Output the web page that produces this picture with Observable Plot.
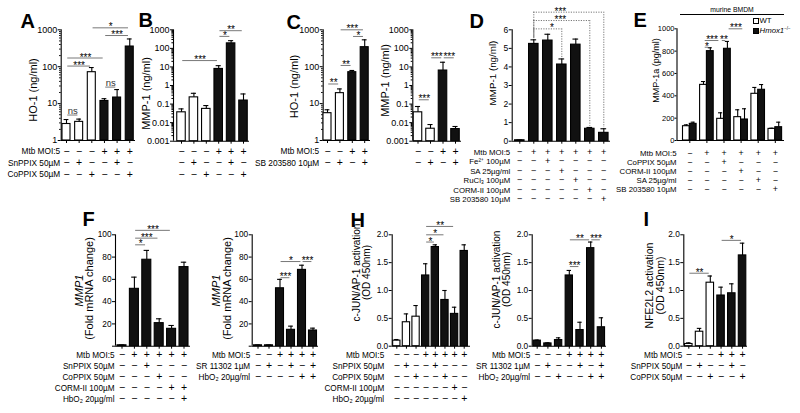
<!DOCTYPE html>
<html><head><meta charset="utf-8">
<script src="https://cdn.jsdelivr.net/npm/d3@7"></script>
<script src="https://cdn.jsdelivr.net/npm/@observablehq/plot@0.6"></script>
<style>
html,body{margin:0;padding:0;background:#fff;}
#fig{position:relative;width:800px;height:413px;overflow:hidden;font-family:"Liberation Sans",Arial,sans-serif;color:#000;}
#fig svg{position:absolute;left:0;top:0;}
.abs{position:absolute;white-space:nowrap;line-height:1;}
</style></head><body><div id="fig"></div>
<script>
// ---------------- DATA ----------------
// tick values and labels
const LOG3_TICKS = [1, 10, 100, 1000];
const LOG3_LABELS = ["1", "10", "100", "1000"];
const LOG6_TICKS = [0.001, 0.01, 0.1, 1, 10, 100, 1000];
const LOG6_LABELS = ["0.001", "0.01", "0.1", "1", "10", "100", "1000"];
const D_TICKS = [0, 1, 2, 3, 4, 5, 6];
const D_LABELS = ["0", "1", "2", "3", "4", "5", "6"];
const E_TICKS = [0, 200, 400, 600, 800, 1000];
const E_LABELS = ["0", "200", "400", "600", "800", "1000"];
const F_TICKS = [0, 20, 40, 60, 80, 100];
const F_LABELS = ["", "20", "40", "60", "80", "100"];
const H_TICKS = [0, 0.5, 1, 1.5, 2];
const H_LABELS = ["0.0", "0.5", "1.0", "1.5", "2.0"];

// Panel A
const A_mean = [2.8, 3.2, 71, 11.8, 14.6, 352];
const A_sem = [0.9, 0.6, 24, 1.8, 9.4, 213];
const A_rowLabels = ["Mtb MOI:5", "SnPPIX 50µM", "CoPPIX 50µM"];
const A_rows = ["---+++", "-+--+-", "--+--+"];
const A_sig = [[0,1,4.9,"ns"],[3,4,28,"ns"],[0,3,172,"***"],[0,2,104,"***"],[2,5,1130,"*"],[3,5,700,"***"]];
const A_yTitle = "HO-1 (ng/ml)";

// Panel B
const B_mean = [0.036, 0.23, 0.055, 7.8, 186, 0.155];
const B_sem = [0.019, 0.15, 0.028, 3.9, 74, 0.195];
const B_rows = ["---+++", "-+--+-", "--+--+"];
const B_sig = [[0,3,22,"***"],[3,4,442,"*"],[3,5,895,"**"]];
const B_yTitle = "MMP-1 (ng/ml)";

// Panel C (HO-1)
const C1_mean = [5.5, 19.2, 71, 338];
const C1_sem = [1.3, 5.8, 8, 197];
const C1_rowLabels = ["Mtb MOI:5", "SB 203580 10µM"];
const C1_rows = ["--++", "-+-+"];
const C1_sig = [[0,1,34,"**"],[1,2,108,"**"],[1,3,1000,"***"],[2,3,660,"*"]];
const C1_yTitle = "HO-1 (ng/ml)";
// Panel C (MMP-1)
const C2_mean = [0.036, 0.0047, 6.4, 0.0045];
const C2_sem = [0.038, 0.0032, 11.5, 0.0017];
const C2_rows = ["--++", "-+-+"];
const C2_sig = [[0,1,0.17,"***"],[1,2,31,"***"],[2,3,31,"***"]];
const C2_yTitle = "MMP-1 (ng/ml)";

// Panel D
const D_mean = [0.05, 5.24, 5.42, 4.13, 5.2, 0.67, 0.45];
const D_sem = [0.02, 0.22, 0.34, 0.3, 0.3, 0.07, 0.22];
const D_rowLabels = ["Mtb MOI:5", "Fe²⁺ 100µM", "SA 25µg/ml", "RuCl₃ 100µM", "CORM-II 100µM", "SB 203580 10µM"];
const D_rows = ["-++++++", "--+----", "---+---", "----+--", "-----+-", "------+"];
const D_sig = [[1,5,6.5,"***",2.9],[1,6,6.95,"***",2.9],[1,3,6.05,"*",2.3]];
const D_yTitle = "MMP-1 (ng/ml)";

// Panel E
const E_series = ["WT", "Hmox1"];
const E_wt_mean = [128, 498, 194, 209, 418, 104];
const E_wt_sem = [12, 30, 54, 66, 57, 6];
const E_ko_mean = [149, 800, 821, 188, 454, 119];
const E_ko_sem = [15, 30, 66, 96, 47, 45];
const E_rowLabels = ["Mtb MOI:5", "CoPPIX 50µM", "CORM-II 100µM", "SA 25µg/ml", "SB 203580 10µM"];
const E_rows = ["-+++++", "--+---", "---+--", "----+-", "-----+"];
// [groupA, seriesA, groupB, seriesB, y, label]
const E_sig = [[1,0,1,1,835,"*"],[1,0,2,0,895,"***"],[2,0,2,1,895,"**"],[2,1,3,1,1000,"***"]];
const E_yTitle = "MMP-1a (pg/ml)";
const E_header = "murine BMDM";

// Panel F (left)
const F1_mean = [0.8, 51.5, 77.6, 20.7, 15.6, 71];
const F1_sem = [0.3, 10.5, 8.4, 3.9, 3, 4.4];
const F1_rowLabels = ["Mtb MOI:5", "SnPPIX 50µM", "CoPPIX 50µM", "CORM-II 100µM", "HbO₂ 20µg/ml"];
const F1_rows = ["-+++++", "--+---", "---+--", "----++", "-----+"];
const F1_sig = [[1,2,91,"*"],[1,3,97,"***"],[1,4,104,"***"]];
// Panel F (right)
const F2_mean = [0.8, 0.8, 52, 14.7, 68.5, 14.1];
const F2_sem = [0.3, 0.3, 8, 3.3, 4.2, 2.1];
const F2_rowLabels = ["Mtb MOI:5", "SR 11302 1µM", "HbO₂ 20µg/ml"];
const F2_rows = ["--++++", "-+-+-+", "----++"];
const F2_sig = [[2,3,61.5,"***"],[2,4,76,"*"],[4,5,76,"***"]];
const F_yTitle1 = "MMP1", F_yTitle2 = "(Fold mRNA change)";

// Panel H (left)
const H1_mean = [0.10, 0.43, 0.53, 1.27, 1.78, 0.83, 0.58, 1.71];
const H1_sem = [0.02, 0.15, 0.20, 0.21, 0.04, 0.17, 0.12, 0.11];
const H1_rowLabels = ["Mtb MOI:5", "SnPPIX 50µM", "CoPPIX 50µM", "CORM-II 100µM", "HbO₂ 20µg/ml"];
const H1_rows = ["---+++++", "-+--+---", "--+--+--", "------+-", "-------+"];
const H1_sig = [[3,4,1.87,"*"],[3,5,2.0,"*"],[3,6,2.15,"**"]];
// Panel H (right)
const H2_mean = [0.10, 0.05, 0.11, 1.27, 0.29, 1.76, 0.34];
const H2_sem = [0.01, 0.01, 0.04, 0.09, 0.14, 0.11, 0.17];
const H2_rowLabels = ["Mtb MOI:5", "SR 11302 1µM", "HbO₂ 20µg/ml"];
const H2_rows = ["---++++", "-+--+-+", "--+--++"];
const H2_sig = [[3,4,1.43,"***"],[3,5,1.91,"**"],[5,6,1.91,"***"]];
const H_yTitle1 = "c-JUN/AP-1 activation", H_yTitle2 = "(OD 450nm)";

// Panel I
const I_mean = [0.04, 0.26, 1.14, 0.91, 0.95, 1.63];
const I_sem = [0.02, 0.06, 0.12, 0.15, 0.17, 0.22];
const I_rowLabels = ["Mtb MOI:5", "SnPPIX 50µM", "CoPPIX 50µM"];
const I_rows = ["---+++", "-+--+-", "--+--+"];
const I_sig = [[0,2,1.31,"**"],[3,5,1.9,"*"]];
const I_yTitle1 = "NFE2L2 activation", I_yTitle2 = "(OD 450nm)";

// ---------------- LAYOUT ----------------
const FONT = "Liberation Sans, Arial, Helvetica, sans-serif";
const TOP_ROWS = [151, 162.5, 174];
const BOT_ROWS = [354.5, 365.5, 376.5, 387.5, 398.5];
const topFonts = {tf: 9, cf: 8.3, sf: 10.5, ts: 3, tp: 1};
const botFonts = {tf: 8.3, cf: 8.2, sf: 10.5, ts: 3, tp: 1};
const logMinor = (lo, hi) => { const a = []; for (let p = lo; p < hi; p *= 10) for (let k = 2; k < 10; k++) a.push(p * k); return a; };

const PM = s => Array.from(s).map(c => c === "-" ? "−" : "+");

function drawPanel(L, D) {
  const xlo = (L.ax - L.c0) / L.s, xhi = (L.xr - L.c0) / L.s;
  const hw = L.w / L.s / 2;
  const base = L.domain[0];
  const rows = D.rows.map(PM);
  const nCols = rows[0].length;
  let bars;
  if (D.mean2) {
    bars = D.mean.map((m, i) => ({x: i - hw, mean: m, sem: D.sem[i], fill: "white"}))
      .concat(D.mean2.map((m, i) => ({x: i + hw, mean: m, sem: D.sem2[i], fill: "#111"})));
  } else {
    bars = D.mean.map((m, i) => ({x: i, mean: m, sem: D.sem[i], fill: (L.open && rows[0][i] === "−") ? "white" : "#111"}));
  }
  const cap = hw * 0.6;
  const marks = [];
  // axes
  marks.push(Plot.axisY({ticks: L.ticks, tickFormat: d => L.labels[L.ticks.indexOf(d)], tickSize: L.ts, tickPadding: L.tp, fontSize: L.tf, label: null}));
  if (L.type === "log") marks.push(Plot.axisY({ticks: logMinor(L.domain[0], L.domain[1]), tickFormat: () => "", tickSize: 1.6, label: null}));
  marks.push(Plot.axisX({ticks: d3.range(nCols), tickFormat: () => "", tickSize: 3, label: null}));
  marks.push(Plot.ruleX([xlo], {stroke: "#000", strokeWidth: 1.1}));
  marks.push(Plot.ruleY([base], {stroke: "#000", strokeWidth: 1.1}));
  // bars + error bars
  marks.push(Plot.rect(bars, {x1: d => d.x - hw, x2: d => d.x + hw, y1: () => base, y2: "mean", fill: "fill", stroke: "#000", strokeWidth: 1.1}));
  marks.push(Plot.ruleX(bars, {x: "x", y1: "mean", y2: d => d.mean + d.sem, stroke: "#000", strokeWidth: 1.1}));
  marks.push(Plot.ruleY(bars, {x1: d => d.x - cap, x2: d => d.x + cap, y: d => d.mean + d.sem, stroke: "#000", strokeWidth: 1.1}));
  // significance
  const sig = D.sig;
  const ins = L.dotted ? 0 : 0.1;
  const dash = L.dotted ? {strokeDasharray: "1.2,1.3"} : {};
  marks.push(Plot.ruleY(sig, {x1: d => d.a + ins, x2: d => d.b - ins, y: "y", stroke: "#555", strokeWidth: 0.8, ...dash}));
  if (L.dotted) {
    const drops = [];
    sig.forEach(d => [d.a, d.b].forEach(i => drops.push({x: i, y1: d.y, y2: bars[i].mean + bars[i].sem + 0.06})));
    marks.push(Plot.ruleX(drops, {x: "x", y1: "y1", y2: "y2", stroke: "#555", strokeWidth: 0.8, ...dash}));
  }
  marks.push(Plot.text(sig.filter(d => d.t !== "ns"), {x: "lx", y: "y", text: "t", lineAnchor: "bottom", dy: 2.5, fontSize: 10, fill: "#000"}));
  marks.push(Plot.text(sig.filter(d => d.t === "ns"), {x: "lx", y: "y", text: "t", lineAnchor: "bottom", dy: -1, fontSize: 9.5, fill: "#333"}));
  // condition table
  rows.forEach((r, k) => {
    const dy = L.rowY[k] - L.bottom;
    marks.push(Plot.text(r.map((t, i) => ({x: i, t})), {x: "x", text: "t", frameAnchor: "bottom", textAnchor: "middle", lineAnchor: "middle", dy, fontSize: L.sf}));
    if (D.rowLabels) marks.push(Plot.text([D.rowLabels[k]], {text: d => d, frameAnchor: "bottom-left", dx: L.ldx, dy, textAnchor: "end", lineAnchor: "middle", fontSize: L.cf}));
  });
  // y titles
  const mid = (L.top + L.bottom) / 2;
  L.titles.forEach(t => marks.push(Plot.text([t.t], {text: d => d, frameAnchor: "left", textAnchor: "middle", lineAnchor: "middle", dx: t.x - L.ax, dy: t.cy - mid, rotate: -90, fontSize: t.fs, fontStyle: t.it ? "italic" : "normal"})));
  // panel letter
  if (L.letter) marks.push(Plot.text([L.letter[0]], {text: d => d, frameAnchor: "top-left", dx: L.letter[1] - L.ax, dy: L.letter[2] - L.top, textAnchor: "start", lineAnchor: "bottom", fontSize: 20, fontWeight: "bold"}));

  return Plot.plot({
    width: 800, height: 413,
    marginLeft: L.ax, marginRight: 800 - L.xr, marginTop: L.top, marginBottom: 413 - L.bottom,
    x: {type: "linear", domain: [xlo, xhi]},
    y: {type: L.type, domain: L.domain},
    color: {type: "identity"},
    style: {background: "transparent", fontFamily: FONT, color: "#000", overflow: "visible"},
    marks
  });
}

const sigOf = arr => arr.map(([a, b, y, t, lx]) => ({a, b, y, t, lx: lx ?? (a + b) / 2}));

const fig = document.getElementById("fig");
const panels = [
  [{ax: 60.7, xr: 135, top: 29.3, bottom: 140, c0: 66, s: 12.65, w: 8, type: "log", domain: [1, 1000], ticks: LOG3_TICKS, labels: LOG3_LABELS, open: true, ...topFonts, ldx: -1, rowY: TOP_ROWS, letter: ["A", 20, 27], titles: [{t: A_yTitle, x: 32.5, cy: 89.5, fs: 11}]},
   {mean: A_mean, sem: A_sem, rows: A_rows, rowLabels: A_rowLabels, sig: sigOf(A_sig)}],
  [{ax: 173, xr: 249, top: 29.3, bottom: 140.7, c0: 181, s: 12.4, w: 8.5, type: "log", domain: [0.001, 1000], ticks: LOG6_TICKS, labels: LOG6_LABELS, open: true, ...topFonts, ldx: -1, rowY: TOP_ROWS, letter: ["B", 138, 26.7], titles: [{t: B_yTitle, x: 146, cy: 93, fs: 11}]},
   {mean: B_mean, sem: B_sem, rows: B_rows, sig: sigOf(B_sig)}],
  [{ax: 322.7, xr: 370, top: 29.3, bottom: 140, c0: 327, s: 12.4, w: 8, type: "log", domain: [1, 1000], ticks: LOG3_TICKS, labels: LOG3_LABELS, open: true, ...topFonts, ldx: -4, rowY: TOP_ROWS, letter: ["C", 286, 28], titles: [{t: C1_yTitle, x: 293.5, cy: 86, fs: 11}]},
   {mean: C1_mean, sem: C1_sem, rows: C1_rows, rowLabels: C1_rowLabels, sig: sigOf(C1_sig)}],
  [{ax: 412.3, xr: 461, top: 29.3, bottom: 140.7, c0: 417.5, s: 12.5, w: 8.5, type: "log", domain: [0.001, 1000], ticks: LOG6_TICKS, labels: LOG6_LABELS, open: true, ...topFonts, ldx: -1, rowY: TOP_ROWS, titles: [{t: C2_yTitle, x: 384.5, cy: 80, fs: 11}]},
   {mean: C2_mean, sem: C2_sem, rows: C2_rows, sig: sigOf(C2_sig)}],
  [{ax: 511.7, xr: 610, top: 29.3, bottom: 140.7, c0: 519.3, s: 14, w: 9.5, type: "linear", domain: [0, 6], ticks: D_TICKS, labels: D_LABELS, open: false, dotted: true, tf: 8.5, cf: 7.8, sf: 9.2, ts: 3, tp: 1, ldx: -2, rowY: [151.5, 161, 170.5, 180, 189.5, 199], letter: ["D", 469, 27], titles: [{t: D_yTitle, x: 492, cy: 72.5, fs: 9.8}]},
   {mean: D_mean, sem: D_sem, rows: D_rows, rowLabels: D_rowLabels, sig: sigOf(D_sig)}],
  [{ax: 676.5, xr: 784, top: 28.3, bottom: 140, c0: 689.3, s: 17.1, w: 6.8, type: "linear", domain: [0, 1000], ticks: E_TICKS, labels: E_LABELS, tf: 7.5, cf: 7.8, sf: 8.8, ts: 2, tp: 0.5, ldx: -0.5, rowY: [153, 162, 171, 180, 189], letter: ["E", 633, 26], titles: [{t: E_yTitle, x: 655.5, cy: 70, fs: 9}]},
   (() => { const hw = 6.8 / 17.1 / 2; const pos = (g, s) => g + (s ? hw : -hw);
     return {mean: E_wt_mean, sem: E_wt_sem, mean2: E_ko_mean, sem2: E_ko_sem, rows: E_rows, rowLabels: E_rowLabels,
       sig: E_sig.map(([ga, sa, gb, sb, y, t]) => ({a: pos(ga, sa), b: pos(gb, sb), y, t, lx: (pos(ga, sa) + pos(gb, sb)) / 2}))}; })()],
  [{ax: 115, xr: 190, top: 234.3, bottom: 345.7, c0: 121.5, s: 12.4, w: 9, type: "linear", domain: [0, 100], ticks: F_TICKS, labels: F_LABELS, open: false, ...botFonts, ldx: -1, rowY: BOT_ROWS, letter: ["F", 82, 225], titles: [{t: F_yTitle1, x: 78.5, cy: 290, fs: 11, it: true}, {t: F_yTitle2, x: 89, cy: 288, fs: 11}]},
   {mean: F1_mean, sem: F1_sem, rows: F1_rows, rowLabels: F1_rowLabels, sig: sigOf(F1_sig)}],
  [{ax: 251.7, xr: 318, top: 234.3, bottom: 345.7, c0: 257.5, s: 11, w: 8, type: "linear", domain: [0, 100], ticks: F_TICKS, labels: F_LABELS, open: false, ...botFonts, ldx: -2, rowY: BOT_ROWS, titles: [{t: F_yTitle1, x: 216, cy: 290, fs: 11, it: true}, {t: F_yTitle2, x: 226.5, cy: 288, fs: 11}]},
   {mean: F2_mean, sem: F2_sem, rows: F2_rows, rowLabels: F2_rowLabels, sig: sigOf(F2_sig)}],
  [{ax: 391.7, xr: 470, top: 234.3, bottom: 345.7, c0: 396.3, s: 9.63, w: 7.3, type: "linear", domain: [0, 2], ticks: H_TICKS, labels: H_LABELS, open: true, ...botFonts, ldx: -8, rowY: BOT_ROWS, letter: ["H", 350, 226], titles: [{t: H_yTitle1, x: 356, cy: 272, fs: 10}, {t: H_yTitle2, x: 366.5, cy: 272, fs: 10}]},
   {mean: H1_mean, sem: H1_sem, rows: H1_rows, rowLabels: H1_rowLabels, sig: sigOf(H1_sig)}],
  [{ax: 531.7, xr: 606, top: 234.3, bottom: 345.7, c0: 536.7, s: 10.7, w: 7.3, type: "linear", domain: [0, 2], ticks: H_TICKS, labels: H_LABELS, open: false, ...botFonts, ldx: -2, rowY: BOT_ROWS, titles: [{t: H_yTitle1, x: 496, cy: 279, fs: 10}, {t: H_yTitle2, x: 506.5, cy: 279, fs: 10}]},
   {mean: H2_mean, sem: H2_sem, rows: H2_rows, rowLabels: H2_rowLabels, sig: sigOf(H2_sig)}],
  [{ax: 683.3, xr: 747, top: 234.3, bottom: 345.7, c0: 688.3, s: 10.75, w: 7.5, type: "linear", domain: [0, 2], ticks: H_TICKS, labels: H_LABELS, open: true, ...botFonts, ldx: -1.5, rowY: BOT_ROWS, letter: ["I", 643, 225], titles: [{t: I_yTitle1, x: 649, cy: 285, fs: 10.5}, {t: I_yTitle2, x: 660.5, cy: 285, fs: 10.5}]},
   {mean: I_mean, sem: I_sem, rows: I_rows, rowLabels: I_rowLabels, sig: sigOf(I_sig)}]
];
panels.forEach(([L, D]) => fig.appendChild(drawPanel(L, D)));

// Panel E header and legend
function addDiv(html, css) { const d = document.createElement("div"); d.className = "abs"; d.innerHTML = html; Object.assign(d.style, css); fig.appendChild(d); return d; }
addDiv(E_header, {left: "680px", top: "6.5px", width: "104px", textAlign: "center", fontSize: "6.8px"});
addDiv("", {left: "680px", top: "13.6px", width: "104px", height: "0", borderTop: "0.9px solid #000"});
addDiv("", {left: "752.8px", top: "18.2px", width: "4px", height: "4px", border: "0.8px solid #000", background: "#fff"});
addDiv(E_series[0], {left: "759.5px", top: "17.3px", fontSize: "7.8px"});
addDiv("", {left: "752.8px", top: "27.8px", width: "4px", height: "4px", border: "0.8px solid #000", background: "#111"});
addDiv("<i>" + E_series[1] + "</i><sup style='font-size:4.5px;vertical-align:3px'>−/−</sup>", {left: "759.5px", top: "27px", fontSize: "7.8px"});
</script></body></html>
